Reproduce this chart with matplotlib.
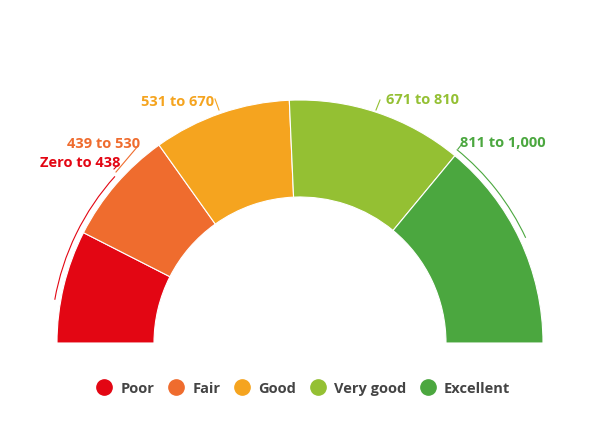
import numpy as np
import matplotlib.pyplot as plt
from matplotlib.patches import Wedge, Arc
from matplotlib.lines import Line2D

categories = ["Poor", "Fair", "Good", "Very good", "Excellent"]
shares = [15, 15.3, 18.3, 23.4, 28]
ranges = ["Zero to 438", "439 to 530", "531 to 670", "671 to 810", "811 to 1,000"]
colors = ["#e30613", "#ef6c2e", "#f5a41f", "#94c033", "#4ba73f"]

plt.rcParams['font.family'] = ['Open Sans', 'DejaVu Sans']

fig = plt.figure(figsize=(6, 4.31), dpi=100)
ax = fig.add_axes([0, 0, 1, 1])
ax.set_xlim(0, 600)
ax.set_ylim(0, 431)
ax.axis('off')

cx, cy, R, W = 300, 87, 243, 97
total = sum(shares)
start = 180.0
for s, c in zip(shares, colors):
    span = 180.0 * s / total
    ax.add_patch(Wedge((cx, cy), R, start - span, start, width=W,
                       facecolor=c, edgecolor='white', linewidth=0.8))
    start -= span

# brackets outside Poor and Excellent
ax.add_patch(Arc((cx, cy), 2 * 249, 2 * 249, theta1=138, theta2=170,
                 color=colors[0], lw=0.8))
ax.add_patch(Arc((cx, cy), 2 * 249, 2 * 249, theta1=25, theta2=51,
                 color=colors[4], lw=0.8))

# leader lines
ax.plot([114, 119], [261, 266], color=colors[0], lw=0.8)
ax.plot([116, 138], [258, 284], color=colors[1], lw=0.8)
ax.plot([215, 219], [331, 320], color=colors[2], lw=0.8)
ax.plot([380, 376], [330, 320], color=colors[3], lw=0.8)
ax.plot([458, 462], [281, 286], color=colors[4], lw=0.8)

txt = dict(fontsize=10.5, fontweight='bold', va='center')
ax.text(120, 268, ranges[0], color=colors[0], ha='right', **txt)
ax.text(140, 287, ranges[1], color=colors[1], ha='right', **txt)
ax.text(178, 329, ranges[2], color=colors[2], ha='center', **txt)
ax.text(422, 331, ranges[3], color=colors[3], ha='center', **txt)
ax.text(503, 288, ranges[4], color=colors[4], ha='center', **txt)

handles = [Line2D([], [], marker='o', ls='', markersize=11, color=c) for c in colors]
leg = fig.legend(handles, categories, loc='center', bbox_to_anchor=(0.5, 0.097),
                 ncol=5, frameon=False, handletextpad=0.1, columnspacing=0.5,
                 prop={'size': 10.5, 'weight': 'bold'})
for t in leg.get_texts():
    t.set_color('#444444')

fig.savefig('out.png', dpi=100)
